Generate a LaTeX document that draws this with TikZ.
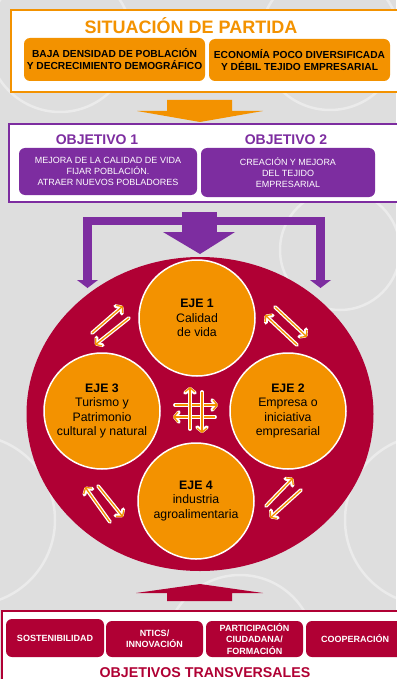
\documentclass[tikz,border=0pt]{standalone}
\usepackage{fontspec}
\setmainfont{Liberation Sans}
\usetikzlibrary{arrows.meta,shapes.geometric}
\definecolor{eorange}{RGB}{243,146,0}
\definecolor{ecrim}{RGB}{176,0,52}
\definecolor{epurp}{RGB}{125,45,160}
\definecolor{ebg}{RGB}{222,222,222}
\tikzset{
  frame/.style={fill=white, line width=2pt},
  obox/.style={fill=eorange, rounded corners=6pt, inner sep=0pt, align=center, text=black,
    font=\bfseries\fontsize{10.2}{12}\selectfont},
  pbox/.style={fill=epurp, rounded corners=6pt, inner sep=0pt, align=center, text=white,
    font=\fontsize{9}{11}\selectfont},
  cbox/.style={fill=ecrim, rounded corners=6pt, inner sep=0pt, align=center, text=white,
    font=\bfseries\fontsize{9}{11.5}\selectfont},
  eje/.style={circle, fill=eorange, draw=white, line width=1.5pt, minimum size=116pt,
    inner sep=0pt, align=center, text=black, font=\fontsize{12.3}{14.3}\selectfont},
  dblarr/.style={preaction={draw=white, line width=3.8pt, line cap=round,
      -{Straight Barb[length=4pt,width=10pt,line join=round,line cap=round]}},
    draw=eorange, line width=1.3pt, -{Straight Barb[length=4pt,width=10pt]}},
  swirl/.style={draw=white, line width=2.5pt, opacity=0.4}
}
\begin{document}
\begin{tikzpicture}[x=1pt,y=-1pt]
\useasboundingbox (0,0) rectangle (396,679);
\fill[ebg] (0,0) rectangle (396,679);
% faint background swirls
\draw[swirl] (60,40) circle[radius=72];
\draw[swirl] (340,250) circle[radius=60];
\draw[swirl] (-30,520) circle[radius=85];
\draw[swirl] (430,520) circle[radius=85];
\draw[swirl] (240,650) circle[radius=75];
\draw[swirl] (330,40) circle[radius=70];

% ---- top: situacion de partida
\draw[frame, draw=eorange] (11,10) rectangle (405,92);
\node[anchor=base, text=eorange, font=\bfseries\fontsize{18}{20}\selectfont] (tit) at (191,33.3) {SITUACIÓN DE PARTIDA};
\node[obox, minimum width=181pt, minimum height=43pt] (b1) at (114.5,59.5)
  {BAJA DENSIDAD DE POBLACIÓN\\Y DECRECIMIENTO DEMOGRÁFICO};
\node[obox, minimum width=181pt, minimum height=42pt] (b2) at (299.5,60)
  {ECONOMÍA POCO DIVERSIFICADA\\Y DÉBIL TEJIDO EMPRESARIAL};

% orange arrow
\fill[eorange] (167,100) -- (232,100) -- (232,111) -- (263,111) -- (200,122) -- (137,111) -- (167,111) -- cycle;

% ---- objetivos
\draw[frame, draw=epurp, line width=1.6pt] (9,124) rectangle (405,202);
\node[anchor=base, text=epurp, font=\bfseries\fontsize{14}{16}\selectfont] (o1) at (97,145) {OBJETIVO 1};
\node[anchor=base, text=epurp, font=\bfseries\fontsize{14}{16}\selectfont] (o2) at (286,145) {OBJETIVO 2};
\node[pbox, minimum width=178pt, minimum height=47pt] (p1) at (108,171.5)
  {MEJORA DE LA CALIDAD DE VIDA\\FIJAR POBLACIÓN.\\ATRAER NUEVOS POBLADORES};
\node[pbox, minimum width=174pt, minimum height=49pt] (p2) at (288,172.5)
  {CREACIÓN Y MEJORA\\DEL TEJIDO\\EMPRESARIAL};

% purple arrows
\fill[epurp] (182,212) rectangle (217,233);
\fill[epurp] (163,232) -- (235,232) -- (200,254) -- cycle;
\fill[epurp] (83,217) rectangle (325,225);
\fill[epurp] (83,217) rectangle (92,281);
\fill[epurp] (316,217) rectangle (325,281);
\fill[epurp] (77,280) -- (98,280) -- (87.5,288) -- cycle;
\fill[epurp] (310,280) -- (331,280) -- (320.5,288) -- cycle;

% ---- central ellipse and ejes
\node[ellipse, fill=ecrim, minimum width=347pt, minimum height=314pt, inner sep=0pt] (ring) at (200,414) {};
\node[eje] (e1) at (197,318) {\textbf{EJE 1}\\Calidad\\de vida};
\node[eje] (e3) at (102,411) {\textbf{EJE 3}\\Turismo y\\Patrimonio\\cultural y natural};
\node[eje] (e2) at (288,411) {\textbf{EJE 2}\\Empresa o\\iniciativa\\empresarial};
\node[eje] (e4) at (196,501) {\textbf{EJE 4}\\industria\\agroalimentaria};

% double arrows
\coordinate (ul1) at (92,333);  \coordinate (ul2) at (123,306);
\coordinate (ul3) at (129,318); \coordinate (ul4) at (95,345);
\coordinate (ur1) at (275,307); \coordinate (ur2) at (307,337);
\coordinate (ur3) at (297,345); \coordinate (ur4) at (265,315);
\coordinate (ll1) at (110,522); \coordinate (ll2) at (85,487);
\coordinate (ll3) at (98,486);  \coordinate (ll4) at (123,517);
\coordinate (lr1) at (266,506); \coordinate (lr2) at (293,478);
\coordinate (lr3) at (301,490); \coordinate (lr4) at (270,518);
\coordinate (cu1) at (190,429); \coordinate (cu2) at (190,387);
\coordinate (cd1) at (202,392); \coordinate (cd2) at (202,433);
\coordinate (cr1) at (175,405); \coordinate (cr2) at (218,405);
\coordinate (cl1) at (215,417); \coordinate (cl2) at (173,417);
\foreach \a/\b in {ul1/ul2,ul3/ul4,ur1/ur2,ur3/ur4,ll1/ll2,ll3/ll4,lr1/lr2,lr3/lr4,cr1/cr2,cl1/cl2,cu1/cu2,cd1/cd2}
  \draw[dblarr] (\a) -- (\b);

% crimson arrow up
\fill[ecrim] (167,601) -- (167,593) -- (136,593) -- (200,584) -- (263,593) -- (232,593) -- (232,601) -- cycle;

% ---- objetivos transversales
\draw[frame, draw=ecrim, line width=1.6pt] (2,611) rectangle (405,690);
\node[cbox, minimum width=98pt, minimum height=38pt] (c1) at (55,638) {SOSTENIBILIDAD};
\node[cbox, minimum width=97pt, minimum height=36pt] (c2) at (154.5,639) {NTICS/\\INNOVACIÓN};
\node[cbox, minimum width=97pt, minimum height=36pt] (c3) at (254.5,639) {PARTICIPACIÓN\\CIUDADANA/\\FORMACIÓN};
\node[cbox, minimum width=98pt, minimum height=36pt] (c4) at (355,639) {COOPERACIÓN};
\node[anchor=base, text=ecrim, font=\bfseries\fontsize{14.2}{16}\selectfont] (ot) at (205,677) {OBJETIVOS TRANSVERSALES};
\end{tikzpicture}
\end{document}
